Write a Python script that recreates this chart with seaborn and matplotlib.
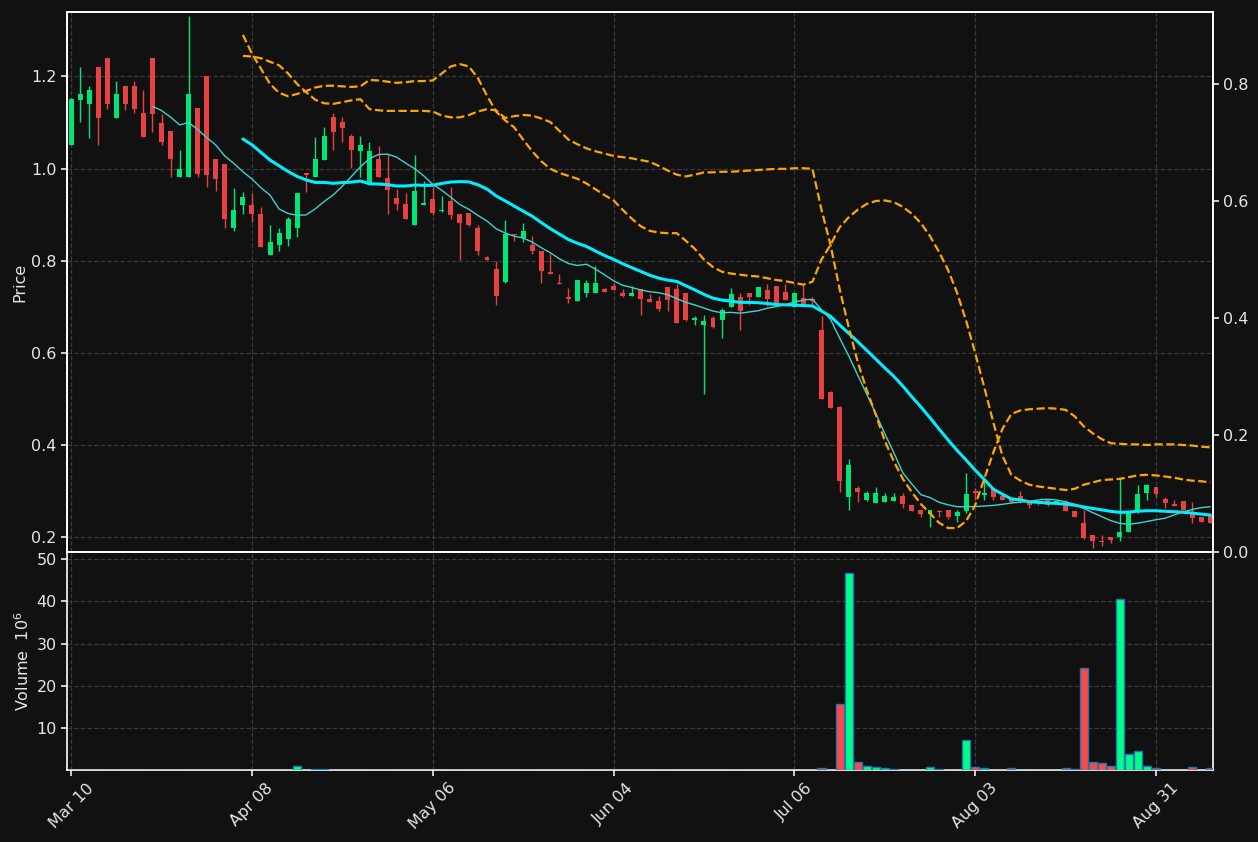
import numpy as np
import pandas as pd
import matplotlib
matplotlib.use("Agg")
import matplotlib.pyplot as plt
import seaborn as sns

# ---------------- data ----------------
tick_labels = ["Mar 10", "Apr 08", "May 06", "Jun 04", "Jul 06", "Aug 03", "Aug 31"]
tick_step = 20

opens = [1.050, 1.149, 1.139, 1.220, 1.240, 1.110, 1.180, 1.180, 1.121, 1.240,
         1.099, 1.082, 0.981, 0.981, 1.131, 1.200, 1.021, 1.010, 0.870, 0.920,
         0.921, 0.902, 0.812, 0.835, 0.848, 0.870, 0.990, 0.981, 1.019, 1.111,
         1.101, 1.071, 1.038, 0.968, 1.020, 0.979, 0.936, 0.923, 0.878, 0.920,
         0.934, 0.907, 0.930, 0.902, 0.904, 0.870, 0.807, 0.781, 0.753, 0.859,
         0.849, 0.835, 0.822, 0.775, 0.751, 0.722, 0.712, 0.729, 0.730, 0.738,
         0.746, 0.731, 0.723, 0.738, 0.717, 0.712, 0.742, 0.738, 0.731, 0.672,
         0.660, 0.675, 0.671, 0.699, 0.722, 0.730, 0.721, 0.736, 0.746, 0.733,
         0.699, 0.720, 0.716, 0.650, 0.515, 0.483, 0.288, 0.306, 0.280, 0.275,
         0.277, 0.279, 0.290, 0.270, 0.259, 0.250, 0.258, 0.259, 0.247, 0.258,
         0.301, 0.292, 0.305, 0.290, 0.282, 0.290, 0.277, 0.279, 0.281, 0.276,
         0.276, 0.257, 0.230, 0.205, 0.192, 0.201, 0.201, 0.211, 0.254, 0.297,
         0.310, 0.283, 0.272, 0.279, 0.254, 0.244, 0.249]
highs = [1.152, 1.220, 1.180, 1.220, 1.240, 1.189, 1.180, 1.189, 1.170, 1.240,
         1.119, 1.082, 1.040, 1.331, 1.131, 1.200, 1.021, 1.010, 0.957, 0.950,
         0.947, 0.916, 0.878, 0.871, 0.895, 0.947, 0.990, 1.068, 1.090, 1.120,
         1.111, 1.074, 1.070, 1.058, 1.049, 1.032, 0.955, 0.946, 1.030, 0.972,
         0.959, 0.941, 0.959, 0.902, 0.904, 0.877, 0.811, 0.800, 0.888, 0.859,
         0.882, 0.854, 0.822, 0.814, 0.772, 0.741, 0.759, 0.758, 0.789, 0.741,
         0.752, 0.738, 0.745, 0.738, 0.728, 0.724, 0.742, 0.750, 0.731, 0.679,
         0.683, 0.680, 0.698, 0.741, 0.730, 0.730, 0.742, 0.750, 0.746, 0.750,
         0.730, 0.748, 0.721, 0.680, 0.517, 0.485, 0.369, 0.311, 0.300, 0.309,
         0.295, 0.295, 0.295, 0.270, 0.259, 0.259, 0.259, 0.259, 0.259, 0.339,
         0.306, 0.326, 0.308, 0.295, 0.288, 0.300, 0.277, 0.281, 0.281, 0.281,
         0.281, 0.257, 0.259, 0.205, 0.205, 0.201, 0.330, 0.254, 0.313, 0.316,
         0.310, 0.287, 0.281, 0.279, 0.277, 0.244, 0.249]
lows = [1.050, 1.100, 1.066, 1.050, 1.130, 1.110, 1.127, 1.120, 1.069, 1.080,
        1.050, 0.981, 0.981, 0.981, 0.981, 0.960, 0.951, 0.870, 0.865, 0.901,
        0.884, 0.829, 0.812, 0.822, 0.832, 0.851, 0.950, 0.981, 1.019, 1.040,
        1.058, 1.001, 0.981, 0.968, 0.982, 0.901, 0.910, 0.890, 0.878, 0.920,
        0.900, 0.905, 0.890, 0.801, 0.875, 0.813, 0.801, 0.703, 0.751, 0.842,
        0.841, 0.815, 0.752, 0.771, 0.749, 0.708, 0.712, 0.722, 0.730, 0.732,
        0.736, 0.722, 0.723, 0.683, 0.710, 0.691, 0.691, 0.665, 0.669, 0.661,
        0.511, 0.654, 0.633, 0.699, 0.649, 0.704, 0.721, 0.701, 0.709, 0.714,
        0.699, 0.699, 0.704, 0.500, 0.481, 0.299, 0.259, 0.276, 0.279, 0.274,
        0.277, 0.279, 0.264, 0.256, 0.243, 0.222, 0.243, 0.239, 0.233, 0.252,
        0.280, 0.280, 0.281, 0.281, 0.274, 0.274, 0.264, 0.270, 0.267, 0.272,
        0.256, 0.243, 0.196, 0.176, 0.180, 0.188, 0.191, 0.211, 0.252, 0.281,
        0.287, 0.263, 0.268, 0.259, 0.230, 0.234, 0.230]
closes = [1.151, 1.162, 1.170, 1.110, 1.139, 1.162, 1.139, 1.130, 1.069, 1.119,
          1.058, 1.020, 1.000, 1.162, 0.989, 0.985, 0.978, 0.890, 0.910, 0.938,
          0.901, 0.829, 0.841, 0.861, 0.891, 0.947, 0.986, 1.021, 1.071, 1.080,
          1.089, 1.040, 1.050, 1.039, 0.982, 0.954, 0.922, 0.890, 0.951, 0.925,
          0.904, 0.910, 0.900, 0.881, 0.878, 0.821, 0.801, 0.724, 0.857, 0.856,
          0.865, 0.821, 0.778, 0.771, 0.749, 0.717, 0.759, 0.751, 0.751, 0.732,
          0.736, 0.723, 0.731, 0.717, 0.710, 0.695, 0.715, 0.665, 0.671, 0.676,
          0.670, 0.657, 0.694, 0.727, 0.691, 0.722, 0.742, 0.718, 0.709, 0.714,
          0.730, 0.699, 0.712, 0.500, 0.481, 0.321, 0.356, 0.298, 0.295, 0.295,
          0.290, 0.287, 0.273, 0.258, 0.250, 0.259, 0.254, 0.243, 0.254, 0.294,
          0.295, 0.297, 0.288, 0.281, 0.277, 0.280, 0.270, 0.274, 0.269, 0.277,
          0.256, 0.243, 0.198, 0.191, 0.189, 0.194, 0.211, 0.254, 0.294, 0.313,
          0.294, 0.275, 0.268, 0.259, 0.241, 0.234, 0.230]
# volume in millions
volumes = [0.03, 0.03, 0.03, 0.03, 0.03, 0.03, 0.03, 0.03, 0.03, 0.03,
           0.03, 0.03, 0.03, 0.12, 0.03, 0.03, 0.03, 0.03, 0.03, 0.03,
           0.03, 0.03, 0.03, 0.03, 0.03, 0.90, 0.03, 0.15, 0.15, 0.03,
           0.03, 0.03, 0.03, 0.03, 0.03, 0.03, 0.03, 0.03, 0.03, 0.03,
           0.03, 0.03, 0.03, 0.03, 0.03, 0.03, 0.03, 0.03, 0.12, 0.03,
           0.03, 0.03, 0.03, 0.03, 0.03, 0.03, 0.03, 0.03, 0.03, 0.03,
           0.03, 0.03, 0.03, 0.03, 0.03, 0.03, 0.03, 0.03, 0.03, 0.03,
           0.03, 0.03, 0.03, 0.03, 0.03, 0.03, 0.03, 0.03, 0.03, 0.03,
           0.03, 0.03, 0.03, 0.40, 0.05, 15.6, 46.8, 1.80, 0.90, 0.60,
           0.40, 0.15, 0.10, 0.10, 0.10, 0.60, 0.15, 0.05, 0.12, 7.10,
           0.60, 0.40, 0.12, 0.12, 0.40, 0.12, 0.12, 0.12, 0.03, 0.03,
           0.40, 0.15, 24.2, 2.00, 1.60, 0.90, 40.6, 3.90, 4.40, 0.90,
           0.40, 0.12, 0.12, 0.12, 0.60, 0.03, 0.40]
# two dashed indicator lines on the right axis, starting at bar 19
osc_start = 19
osc_a = [0.884, 0.852, 0.826, 0.800, 0.785, 0.779, 0.783, 0.788, 0.794, 0.797,
         0.797, 0.796, 0.795, 0.796, 0.807, 0.806, 0.804, 0.802, 0.803, 0.805,
         0.805, 0.806, 0.818, 0.830, 0.834, 0.830, 0.810, 0.780, 0.753, 0.738,
         0.726, 0.705, 0.685, 0.668, 0.655, 0.648, 0.643, 0.638, 0.630, 0.620,
         0.610, 0.601, 0.585, 0.570, 0.557, 0.549, 0.546, 0.545, 0.545, 0.532,
         0.518, 0.500, 0.487, 0.479, 0.476, 0.474, 0.472, 0.471, 0.468, 0.465,
         0.463, 0.460, 0.457, 0.462, 0.500, 0.525, 0.555, 0.572, 0.585, 0.595,
         0.600, 0.601, 0.598, 0.590, 0.578, 0.562, 0.540, 0.513, 0.482, 0.443,
         0.395, 0.340, 0.282, 0.222, 0.165, 0.132, 0.122, 0.115, 0.112, 0.110,
         0.108, 0.106, 0.108, 0.115, 0.119, 0.123, 0.124, 0.125, 0.128, 0.131,
         0.132, 0.131, 0.129, 0.127, 0.124, 0.122, 0.121, 0.119]
osc_b = [0.848, 0.847, 0.844, 0.838, 0.832, 0.818, 0.800, 0.786, 0.773, 0.767,
         0.766, 0.769, 0.772, 0.774, 0.757, 0.755, 0.754, 0.754, 0.754, 0.754,
         0.754, 0.753, 0.746, 0.743, 0.743, 0.747, 0.753, 0.757, 0.755, 0.742,
         0.745, 0.747, 0.746, 0.741, 0.735, 0.720, 0.705, 0.697, 0.690, 0.685,
         0.681, 0.677, 0.675, 0.673, 0.670, 0.667, 0.660, 0.652, 0.645, 0.642,
         0.645, 0.649, 0.649, 0.650, 0.650, 0.651, 0.652, 0.653, 0.654, 0.655,
         0.655, 0.656, 0.656, 0.655, 0.585, 0.525, 0.450, 0.385, 0.325, 0.277,
         0.235, 0.190, 0.155, 0.125, 0.102, 0.082, 0.066, 0.050, 0.041, 0.041,
         0.053, 0.080, 0.125, 0.170, 0.210, 0.236, 0.242, 0.244, 0.245, 0.246,
         0.245, 0.243, 0.232, 0.215, 0.203, 0.193, 0.186, 0.185, 0.184, 0.184,
         0.183, 0.184, 0.184, 0.184, 0.183, 0.182, 0.180, 0.179]

# ---------------- styling ----------------
BG = "#111111"
FG = "#e6e6e6"
GRID = "#3a3a3a"
UP, DOWN = "#00e676", "#e84142"
VUP, VDOWN = "#00ff88", "#ff4848"

sns.set_theme(style="dark", rc={
    "axes.facecolor": BG, "figure.facecolor": BG, "savefig.facecolor": BG,
    "axes.edgecolor": "white", "axes.labelcolor": FG,
    "xtick.color": FG, "ytick.color": FG, "text.color": FG,
    "grid.color": GRID, "grid.linestyle": "--", "grid.linewidth": 0.9,
    "xtick.bottom": True, "ytick.left": True,
})
plt.rcParams["font.family"] = ["DejaVu Sans"]
FS = 11.5

df = pd.DataFrame({"o": opens, "h": highs, "l": lows, "c": closes, "v": volumes})
df["i"] = np.arange(len(df))
df["ma10"] = df["c"].rolling(10).mean()
df["ma20"] = df["c"].rolling(20).mean()
up = df["c"] >= df["o"]
ccol = np.where(up, UP, DOWN)
vcol = np.where(up, VUP, VDOWN)

osc = pd.DataFrame({"i": np.arange(osc_start, osc_start + len(osc_a)), "a": osc_a, "b": osc_b})

fig = plt.figure(figsize=(12.58, 8.42), dpi=100)
ax = fig.add_axes([0.0533, 0.3444, 0.9109, 0.6413])
axv = fig.add_axes([0.0533, 0.0855, 0.9109, 0.2589], sharex=ax)

# candles
ax.vlines(df["i"], df["l"], df["h"], colors=ccol, linewidth=1.0, zorder=2)
body_bottom = np.minimum(df["o"], df["c"])
body_h = np.maximum(np.abs(df["c"] - df["o"]), 0.003)
ax.bar(df["i"], body_h, bottom=body_bottom, width=0.55, color=ccol, linewidth=0, zorder=3)

# moving averages
sns.lineplot(data=df, x="i", y="ma20", ax=ax, color="#00eeff", linewidth=2.2, zorder=4)
sns.lineplot(data=df, x="i", y="ma10", ax=ax, color="#3fd3cb", linewidth=1.0, zorder=4)

ax.set_ylim(0.168, 1.3395)
ax.set_yticks([0.2, 0.4, 0.6, 0.8, 1.0, 1.2])
ax.set_xlim(-0.45, 126.3)
ax.set_ylabel("Price", fontsize=FS, labelpad=3)
ax.set_xlabel("")
ax.grid(True, axis="both")
ax.tick_params(axis="x", bottom=False, labelbottom=False)
ax.tick_params(axis="y", labelsize=FS, length=4, colors=FG)

# secondary axis
ax2 = ax.twinx()
sns.lineplot(data=osc, x="i", y="a", ax=ax2, color="#ffa500", linewidth=1.6, linestyle="--")
sns.lineplot(data=osc, x="i", y="b", ax=ax2, color="#ffa500", linewidth=1.6, linestyle="--")
ax2.set_ylim(0.0, 0.923)
ax2.set_yticks([0.0, 0.2, 0.4, 0.6, 0.8])
ax2.set_ylabel("")
ax2.grid(False)
ax2.tick_params(axis="y", labelsize=FS, length=4, colors=FG, right=True)

# volume
axv.bar(df["i"], df["v"], width=0.9, color=vcol, edgecolor="#1f77b4", linewidth=1.0, zorder=3)
axv.set_ylim(0, 51.7)
axv.set_yticks([10, 20, 30, 40, 50])
axv.set_ylabel("Volume  $10^{6}$", fontsize=FS, labelpad=3)
axv.grid(True, axis="both")
ticks = list(range(0, len(df), tick_step))
axv.set_xticks(ticks)
axv.set_xticklabels(tick_labels[:len(ticks)], rotation=45, ha="center", fontsize=FS)
axv.tick_params(axis="y", labelsize=FS, length=4, colors=FG)
axv.tick_params(axis="x", length=4, colors=FG)

for a in (ax, ax2, axv):
    for s in a.spines.values():
        s.set_color("white")
        s.set_linewidth(1.2)

fig.savefig("out.png", dpi=100, facecolor=BG)
